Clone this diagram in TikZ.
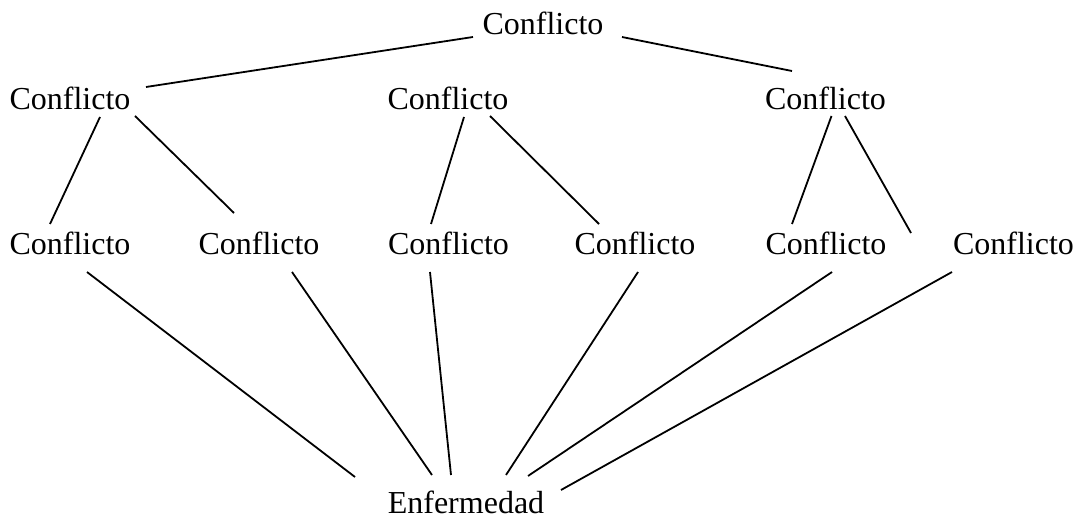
\documentclass[tikz,border=0pt]{standalone}
\usepackage{fontspec}
\setmainfont{Liberation Serif}
\usepackage{tikz}
\usetikzlibrary{positioning}

\begin{document}
\begin{tikzpicture}[x=0.5pt, y=-0.5pt, line width=0.9pt,
                    word/.style={anchor=base, inner sep=0pt, font=\fontsize{16}{19}\selectfont}]
                    \useasboundingbox (0,0) rectangle (1076,518);
                    \node[word] (top) at (543,35) {Conflicto};
                    \node[word] (c1) at (70,110) {Conflicto};
                    \node[word] (c2) at (448,110) {Conflicto};
                    \node[word] (c3) at (825.5,110) {Conflicto};
                    \node[word] (d1) at (70,255) {Conflicto};
                    \node[word] (d2) at (259,255) {Conflicto};
                    \node[word] (d3) at (448.5,255) {Conflicto};
                    \node[word] (d4) at (635,255) {Conflicto};
                    \node[word] (d5) at (826,255) {Conflicto};
                    \node[word] (d6) at (1013.5,255) {Conflicto};
                    \node[word] (enf) at (466,513) {Enfermedad};

                    \path [-] ([shift={(-70,2)}]top.base) edge ([shift={(76,-23)}]c1.base);
                    \path [-] ([shift={(79,2)}]top.base) edge ([shift={(-33.5,-39)}]c3.base);
                    \path [-] ([shift={(30,7)}]c1.base) edge ([shift={(-20,-31)}]d1.base);
                    \path [-] ([shift={(65,6)}]c1.base) edge ([shift={(-25,-42)}]d2.base);
                    \path [-] ([shift={(16,7)}]c2.base) edge ([shift={(-17.5,-31)}]d3.base);
                    \path [-] ([shift={(42,6)}]c2.base) edge ([shift={(-36,-31)}]d4.base);
                    \path [-] ([shift={(6,6)}]c3.base) edge ([shift={(-34,-31)}]d5.base);
                    \path [-] ([shift={(19.5,6)}]c3.base) edge ([shift={(-102.5,-22)}]d6.base);
                    \path [-] ([shift={(17,17)}]d1.base) edge ([shift={(-111,-36)}]enf.base);
                    \path [-] ([shift={(33,17)}]d2.base) edge ([shift={(-34,-38)}]enf.base);
                    \path [-] ([shift={(-18.5,17)}]d3.base) edge ([shift={(-15,-38)}]enf.base);
                    \path [-] ([shift={(3,17)}]d4.base) edge ([shift={(40,-38)}]enf.base);
                    \path [-] ([shift={(6,17)}]d5.base) edge ([shift={(62,-37)}]enf.base);
                    \path [-] ([shift={(-61.5,17)}]d6.base) edge ([shift={(95,-23)}]enf.base);
                \end{tikzpicture}
\end{document}
